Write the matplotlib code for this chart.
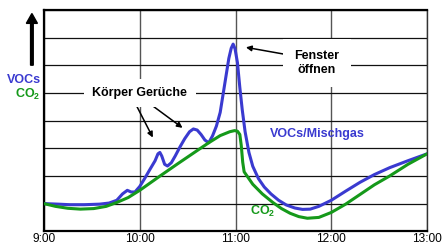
import matplotlib.pyplot as plt
from matplotlib.patches import FancyArrow

# hours after 9:00 and relative level (grid units)
voc_t = [0.0, 0.15, 0.27, 0.42, 0.58, 0.68, 0.76, 0.82, 0.87, 0.91, 0.95, 1.0, 1.05, 1.10, 1.16,
         1.19, 1.21, 1.23, 1.26, 1.29, 1.33, 1.37, 1.42, 1.47, 1.52, 1.56, 1.60, 1.64, 1.68, 1.72,
         1.76, 1.80, 1.84, 1.87, 1.90, 1.93, 1.955, 1.975, 1.995, 2.02, 2.045, 2.07, 2.10, 2.14,
         2.18, 2.24, 2.30, 2.37, 2.45, 2.53, 2.62, 2.70, 2.78, 2.87, 3.0, 3.15, 3.30, 3.45, 3.61,
         3.80, 4.0]
voc_y = [1.0, 0.98, 0.96, 0.96, 0.98, 1.02, 1.12, 1.35, 1.48, 1.42, 1.42, 1.62, 1.9, 2.2, 2.55,
         2.8, 2.85, 2.72, 2.42, 2.36, 2.48, 2.72, 3.05, 3.35, 3.6, 3.7, 3.66, 3.5, 3.3, 3.2,
         3.45, 3.8, 4.3, 4.95, 5.6, 6.25, 6.62, 6.77, 6.6, 6.1, 5.2, 4.4, 3.6, 2.85,
         2.35, 1.9, 1.6, 1.35, 1.12, 0.95, 0.84, 0.79, 0.8, 0.9, 1.12, 1.45, 1.77, 2.05, 2.3,
         2.55, 2.8]

co2_t = [0.0, 0.12, 0.25, 0.38, 0.52, 0.65, 0.76, 0.88, 1.0, 1.2, 1.4, 1.6, 1.72, 1.84, 1.94,
         1.99, 2.02, 2.045, 2.06, 2.075, 2.09, 2.13, 2.18, 2.28, 2.39, 2.48, 2.57, 2.66, 2.75,
         2.87, 3.0, 3.15, 3.30, 3.45, 3.61, 3.80, 4.0]
co2_y = [1.0, 0.9, 0.83, 0.8, 0.82, 0.9, 1.04, 1.22, 1.48, 1.97, 2.45, 2.92, 3.2, 3.46, 3.6,
         3.64, 3.62, 3.5, 3.1, 2.5, 2.15, 1.95, 1.7, 1.35, 1.04, 0.82, 0.65, 0.53, 0.47,
         0.5, 0.68, 0.98, 1.33, 1.68, 2.0, 2.42, 2.8]

xticks = [0, 1, 2, 3, 4]
xlabels = ['9:00', '10:00', '11:00', '12:00', '13:00']

blue = '#3a3ad0'
green = '#15991a'

plt.rcParams['font.family'] = ['Liberation Sans', 'DejaVu Sans']
plt.rcParams['mathtext.fontset'] = 'custom'
plt.rcParams['mathtext.bf'] = 'Liberation Sans:bold'
plt.rcParams['mathtext.rm'] = 'Liberation Sans'
co2_label = r'$\mathbf{CO_2}$'
fs = 9

fig = plt.figure(figsize=(4.43, 2.46), dpi=100)
ax = fig.add_axes([0.0993, 0.06, 0.8647, 0.899])

ax.set_xlim(0, 4)
ax.set_ylim(0, 8)
ax.set_xticks(xticks)
ax.set_xticklabels(xlabels, fontsize=8.6)
ax.set_yticks(range(9))
ax.set_yticklabels([])
ax.tick_params(length=0, pad=1)
ax.grid(axis='y', color='#111111', lw=0.9)
ax.grid(axis='x', color='#555555', lw=1.0)
ax.set_axisbelow(True)
for s in ['left', 'bottom', 'top']:
    ax.spines[s].set_linewidth(1.6)
ax.spines['right'].set_linewidth(1.0)
ax.spines['right'].set_color('#333333')

ax.plot(voc_t, voc_y, color=blue, lw=2.2, solid_capstyle='round', zorder=3)
ax.plot(co2_t, co2_y, color=green, lw=2.2, solid_capstyle='round', zorder=4)

arrow = dict(arrowstyle='-|>', color='black', lw=1.1, mutation_scale=8)
ax.annotate('', xy=(1.15, 3.3), xytext=(0.95, 4.65), arrowprops=arrow, zorder=5)
ax.annotate('', xy=(1.47, 3.68), xytext=(1.09, 4.65), arrowprops=arrow, zorder=5)
ax.text(1.0, 5.0, 'Körper Gerüche', fontsize=fs, fontweight='bold', ha='center', va='center',
        bbox=dict(facecolor='white', edgecolor='none', pad=6), zorder=6)

ax.annotate('', xy=(2.08, 6.67), xytext=(2.55, 6.38), arrowprops=arrow, zorder=5)
ax.text(2.85, 6.08, 'Fenster\nöffnen', fontsize=fs, fontweight='bold', ha='center', va='center',
        linespacing=1.25, bbox=dict(facecolor='white', edgecolor='none', pad=8), zorder=6)

ax.text(2.85, 3.5, 'VOCs/Mischgas', fontsize=fs, fontweight='bold', color=blue,
        ha='center', va='center', zorder=6)
ax.text(2.28, 0.72, co2_label, fontsize=fs, color=green,
        ha='center', va='center', zorder=6)

fig.text(0.092, 0.675, 'VOCs', fontsize=fs, fontweight='bold', color=blue, ha='right', va='center')
fig.text(0.092, 0.618, co2_label, fontsize=fs, color=green, ha='right', va='center')
fig.patches.append(FancyArrow(
    0.072, 0.735, 0, 0.17, width=0.006, head_width=0.025, head_length=0.04,
    color='black', transform=fig.transFigure, figure=fig))

fig.savefig('out.png', dpi=100)
